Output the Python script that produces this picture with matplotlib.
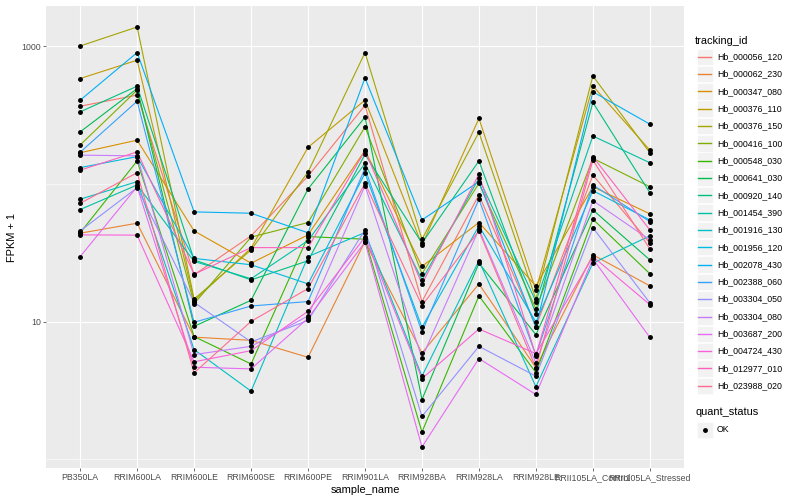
import matplotlib
matplotlib.use("Agg")
import matplotlib.pyplot as plt
from matplotlib.patches import Rectangle
import numpy as np

plt.rcParams['font.family'] = ['Liberation Sans', 'DejaVu Sans']

samples = ["PB350LA", "RRIM600LA", "RRIM600LE", "RRIM600SE", "RRIM600PE",
           "RRIM901LA", "RRIM928BA", "RRIM928LA", "RRIM928LE",
           "RRII105LA_Control", "RRII105LA_Stressed"]

tracking_ids = ["Hb_000056_120", "Hb_000062_230", "Hb_000347_080", "Hb_000376_110",
                "Hb_000376_150", "Hb_000416_100", "Hb_000548_030", "Hb_000641_030",
                "Hb_000920_140", "Hb_001454_390", "Hb_001916_130", "Hb_001956_120",
                "Hb_002078_430", "Hb_002388_060", "Hb_003304_050", "Hb_003304_080",
                "Hb_003687_200", "Hb_004724_430", "Hb_012977_010", "Hb_023988_020"]

# FPKM + 1 values, one list per tracking_id (order of samples)
Hb_000056_120 = [367, 442, 21.9, 42.0, 114, 372, 14.0, 83.2, 9.2, 116, 37.2]
Hb_000062_230 = [43.9, 51.9, 7.72, 7.32, 5.51, 38.2, 5.93, 18.8, 4.64, 30.6, 18.2]
Hb_000347_080 = [168.6, 208, 45.6, 26.6, 42.7, 175.5, 25.2, 52.5, 18.2, 95.5, 60.7]
Hb_000376_110 = [583, 792, 14.2, 34.2, 184.5, 406, 36.1, 299, 16.9, 515, 176]
Hb_000376_150 = [1005, 1380, 14.6, 33.2, 122, 900, 39.7, 237, 14.6, 609, 168.6]
Hb_000416_100 = [192, 480, 13.5, 41.1, 52.5, 260, 22.3, 101, 12.4, 153.5, 95.5]
Hb_000548_030 = [44.2, 147, 7.8, 4.93, 41.5, 39.7, 1.58, 15.4, 4.27, 55.5, 22.3]
Hb_000641_030 = [239, 493, 9.25, 14.3, 92, 306, 2.72, 26.6, 8.05, 64.8, 28.1]
Hb_000920_140 = [334, 513, 28.1, 20.1, 27.7, 164, 37.2, 147, 11.4, 391, 86.5]
Hb_001454_390 = [65.2, 98.4, 27.4, 20.5, 38.8, 141, 20.1, 110, 14.0, 223, 142.6]
Hb_001916_130 = [77.5, 104, 6.27, 3.13, 29.7, 44.4, 4.02, 27.7, 3.37, 26.6, 42.0]
Hb_001956_120 = [131.5, 158, 28.8, 25.9, 18.8, 119.6, 9.1, 49.6, 9.95, 89.4, 54.8]
Hb_002078_430 = [406, 900, 62.7, 61.3, 44.2, 589, 54.8, 104, 9.1, 467, 272]
Hb_002388_060 = [170, 399, 9.9, 13.0, 14.0, 130, 8.42, 77.5, 5.70, 98.4, 53.3]
Hb_003304_050 = [45.6, 94, 13.8, 7.13, 10.2, 46.4, 2.05, 6.62, 4.02, 48.2, 13.7]
Hb_003304_080 = [162, 160, 5.77, 6.62, 11.0, 97.2, 5.46, 47.0, 5.02, 75.7, 39.3]
Hb_003687_200 = [29.7, 95.5, 4.67, 4.54, 10.6, 37.8, 1.23, 5.40, 2.96, 28.6, 7.69]
Hb_004724_430 = [42.7, 42.5, 5.11, 6.16, 11.9, 41.1, 3.86, 8.85, 5.86, 29.7, 13.3]
Hb_012977_010 = [126, 171, 22.1, 34.5, 34.5, 174, 18.8, 117.5, 5.67, 158, 46.4]
Hb_023988_020 = [72.4, 120.8, 4.25, 10.05, 17.4, 101, 13.1, 45.6, 4.62, 149, 33.8]

series = [Hb_000056_120, Hb_000062_230, Hb_000347_080, Hb_000376_110, Hb_000376_150,
          Hb_000416_100, Hb_000548_030, Hb_000641_030, Hb_000920_140, Hb_001454_390,
          Hb_001916_130, Hb_001956_120, Hb_002078_430, Hb_002388_060, Hb_003304_050,
          Hb_003304_080, Hb_003687_200, Hb_004724_430, Hb_012977_010, Hb_023988_020]

colors = ["#F8766D", "#EA8331", "#D89000", "#C09B00", "#A3A500", "#7CAE00", "#39B600",
          "#00BB4E", "#00BF7D", "#00C1A3", "#00BFC4", "#00BAE0", "#00B0F6", "#35A2FF",
          "#9590FF", "#C77CFF", "#E76BF3", "#FA62DB", "#FF62BC", "#FF6C91"]

W, H = 800, 500
fig = plt.figure(figsize=(8, 5), dpi=100)
fig.patch.set_facecolor("white")

L, R, T, B = 46, 684, 6, 468
ax = fig.add_axes([L / W, 1 - B / H, (R - L) / W, (B - T) / H])
ax.set_facecolor("#EBEBEB")

x = np.arange(1, len(samples) + 1)
for vals, c in zip(series, colors):
    ax.plot(x, vals, color=c, lw=0.8, zorder=3, solid_capstyle="butt")
for vals in series:
    ax.plot(x, vals, linestyle="none", marker="o", markersize=2.5,
            color="black", zorder=4)

ax.set_yscale("log")
allv = np.log10(np.concatenate([np.array(s, float) for s in series]))
lo, hi = allv.min(), allv.max()
pad = 0.05 * (hi - lo)
ax.set_ylim(10 ** (lo - pad), 10 ** (hi + pad))
ax.set_xlim(0.4, len(samples) + 0.6)

ax.set_yticks([10, 1000])
ax.set_yticklabels(["10", "1000"])
ax.set_yticks([1, 100], minor=True)
ax.yaxis.set_minor_formatter(matplotlib.ticker.NullFormatter())
ax.set_xticks(x)
ax.set_xticklabels(samples)

ax.grid(True, which="major", color="white", lw=0.8, zorder=1)
ax.grid(True, which="minor", axis="y", color="white", lw=0.4, zorder=1)
ax.set_axisbelow(True)
for s in ax.spines.values():
    s.set_visible(False)
ax.tick_params(axis="both", which="major", length=2.2, width=0.5, color="#333333",
               labelsize=6.3, labelcolor="#4D4D4D", pad=1.5)
ax.tick_params(axis="y", which="minor", length=0)

ax.set_xlabel("sample_name", fontsize=7.9, color="black", labelpad=2)
ax.set_ylabel("FPKM + 1", fontsize=7.9, color="black", labelpad=3)

# legend drawn in figure pixel coordinates
lg = fig.add_axes([0, 0, 1, 1], zorder=10)
lg.set_xlim(0, W)
lg.set_ylim(H, 0)
lg.axis("off")
lg.patch.set_alpha(0)

lg.text(695, 40.5, "tracking_id", fontsize=7.9, va="center", ha="left")
y0, dy = 56.7, 17.32
for i, (tid, c) in enumerate(zip(tracking_ids, colors)):
    yc = y0 + i * dy
    lg.add_patch(Rectangle((696.5, yc - 8.2), 16.4, 16.4, facecolor="#F2F2F2",
                           edgecolor="white", lw=0.5, zorder=1))
    lg.plot([698.2, 711.2], [yc, yc], color=c, lw=1.0, zorder=2)
    lg.text(717, yc, tid, fontsize=6.3, va="center", ha="left")

lg.text(695, 411.7, "quant_status", fontsize=7.9, va="center", ha="left")
yq = 430
lg.add_patch(Rectangle((696.5, yq - 8.2), 16.4, 16.4, facecolor="#F2F2F2",
                       edgecolor="white", lw=0.5, zorder=1))
lg.plot([704.7], [yq], marker="o", markersize=2.5, color="black", zorder=2)
lg.text(717, yq, "OK", fontsize=6.3, va="center", ha="left")

fig.savefig("out.png", dpi=100)
